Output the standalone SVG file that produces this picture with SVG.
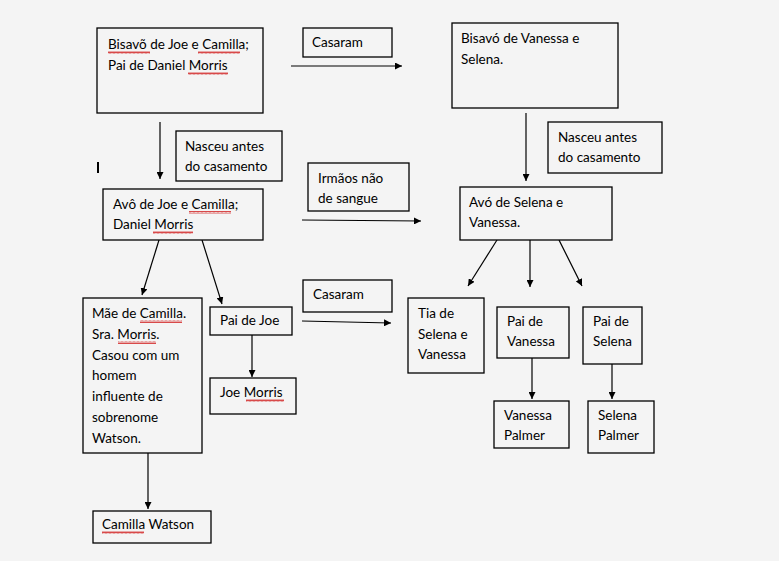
<svg xmlns="http://www.w3.org/2000/svg" width="779" height="561" viewBox="0 0 779 561">
<defs>
<style>
.bg{fill:#f4f4f4}
.box{fill:#f4f4f4;stroke:#000;stroke-width:1.3}
text{font-family:"Lato","Liberation Sans",sans-serif;font-size:13.5px;fill:#000}
.ln{stroke:#000;stroke-width:1.2;fill:none;marker-end:url(#ah)}
.sq{fill:url(#wave)}
</style>
<marker id="ah" viewBox="0 0 10 10" refX="10" refY="5" markerWidth="7" markerHeight="7" markerUnits="userSpaceOnUse" orient="auto">
<path d="M0,0 L10,5 L0,10 z" fill="#000"/>
</marker>
<pattern id="wave" width="4" height="3" patternUnits="userSpaceOnUse">
<path d="M0,2.5 L1,0.5 L2,2.5 L3,0.5 L4,2.5" stroke="#c00" stroke-width="0.7" fill="none"/>
</pattern>
</defs>
<rect class="bg" x="0" y="0" width="779" height="561"/>

<g id="connectors">
<line class="ln" x1="291" y1="66" x2="402" y2="66"/>
<line class="ln" x1="160" y1="122" x2="160" y2="179"/>
<line class="ln" x1="526" y1="113" x2="526" y2="181"/>
<line class="ln" x1="302" y1="220" x2="421" y2="221"/>
<line class="ln" x1="159" y1="240" x2="142" y2="295"/>
<line class="ln" x1="202" y1="240" x2="222" y2="304"/>
<line class="ln" x1="302" y1="321" x2="391" y2="323"/>
<line class="ln" x1="252" y1="335" x2="252" y2="377"/>
<line class="ln" x1="148" y1="453" x2="148" y2="509"/>
<line class="ln" x1="497" y1="240" x2="468" y2="286"/>
<line class="ln" x1="530" y1="240" x2="530" y2="287"/>
<line class="ln" x1="559" y1="240" x2="582" y2="286"/>
<line class="ln" x1="532" y1="358" x2="532" y2="399"/>
<line class="ln" x1="612" y1="364" x2="612" y2="399"/>
</g>

<rect x="97" y="162" width="2" height="11" fill="#000"/>

<g id="bisavo-joe">
<rect class="box" x="97" y="28" width="166" height="85"/>
<text x="108" y="49">Bisavõ de Joe e Camilla;</text>
<text x="108" y="70">Pai de Daniel Morris</text>
<rect class="sq" x="108" y="51" width="42" height="3"/>
<rect class="sq" x="198" y="51" width="42" height="3"/>
<rect class="sq" x="188" y="72" width="40" height="3"/>
</g>

<g id="casaram1">
<rect class="box" x="303" y="28" width="89" height="29"/>
<text x="312" y="47">Casaram</text>
</g>

<g id="bisavo-vanessa">
<rect class="box" x="452" y="23" width="166" height="85"/>
<text x="461" y="43">Bisavó de Vanessa e</text>
<text x="461" y="64">Selena.</text>
</g>

<g id="nasceu1">
<rect class="box" x="176" y="131" width="106" height="50"/>
<text x="185" y="151">Nasceu antes</text>
<text x="185" y="171">do casamento</text>
</g>

<g id="nasceu2">
<rect class="box" x="548" y="122" width="114" height="51"/>
<text x="558" y="142">Nasceu antes</text>
<text x="558" y="162">do casamento</text>
</g>

<g id="avo-joe">
<rect class="box" x="103" y="189" width="160" height="51"/>
<text x="113" y="209">Avô de Joe e Camilla;</text>
<text x="113" y="229">Daniel Morris</text>
<rect class="sq" x="189" y="211" width="42" height="3"/>
<rect class="sq" x="153" y="231" width="40" height="3"/>
</g>

<g id="irmaos">
<rect class="box" x="308" y="163" width="101" height="48"/>
<text x="318" y="183">Irmãos não</text>
<text x="318" y="203">de sangue</text>
</g>

<g id="avo-selena">
<rect class="box" x="460" y="187" width="152" height="53"/>
<text x="469" y="207">Avó de Selena e</text>
<text x="469" y="227">Vanessa.</text>
</g>

<g id="mae-camilla">
<rect class="box" x="83" y="298" width="119" height="155"/>
<text x="92" y="318">Mãe de Camilla.</text>
<text x="92" y="339">Sra. Morris.</text>
<text x="92" y="360">Casou com um</text>
<text x="92" y="380">homem</text>
<text x="92" y="401">influente de</text>
<text x="92" y="422">sobrenome</text>
<text x="92" y="443">Watson.</text>
<rect class="sq" x="140" y="320" width="42" height="3"/>
<rect class="sq" x="118" y="341" width="38" height="3"/>
</g>

<g id="pai-joe">
<rect class="box" x="210" y="307" width="82" height="28"/>
<text x="220" y="325">Pai de Joe</text>
</g>

<g id="casaram2">
<rect class="box" x="303" y="280" width="89" height="32"/>
<text x="313" y="299">Casaram</text>
</g>

<g id="joe-morris">
<rect class="box" x="210" y="378" width="86" height="36"/>
<text x="220" y="397">Joe Morris</text>
<rect class="sq" x="246" y="399" width="38" height="3"/>
</g>

<g id="camilla-watson">
<rect class="box" x="93" y="511" width="118" height="32"/>
<text x="102" y="529">Camilla Watson</text>
<rect class="sq" x="102" y="531" width="42" height="3"/>
</g>

<g id="tia">
<rect class="box" x="408" y="298" width="76" height="75"/>
<text x="418" y="318">Tia de</text>
<text x="418" y="339">Selena e</text>
<text x="418" y="359">Vanessa</text>
</g>

<g id="pai-vanessa">
<rect class="box" x="497" y="307" width="72" height="51"/>
<text x="507" y="326">Pai de</text>
<text x="507" y="346">Vanessa</text>
</g>

<g id="pai-selena">
<rect class="box" x="583" y="307" width="59" height="57"/>
<text x="593" y="326">Pai de</text>
<text x="593" y="346">Selena</text>
</g>

<g id="vanessa-palmer">
<rect class="box" x="494" y="401" width="75" height="47"/>
<text x="504" y="420">Vanessa</text>
<text x="504" y="440">Palmer</text>
</g>

<g id="selena-palmer">
<rect class="box" x="588" y="401" width="66" height="52"/>
<text x="598" y="420">Selena</text>
<text x="598" y="440">Palmer</text>
</g>
</svg>
